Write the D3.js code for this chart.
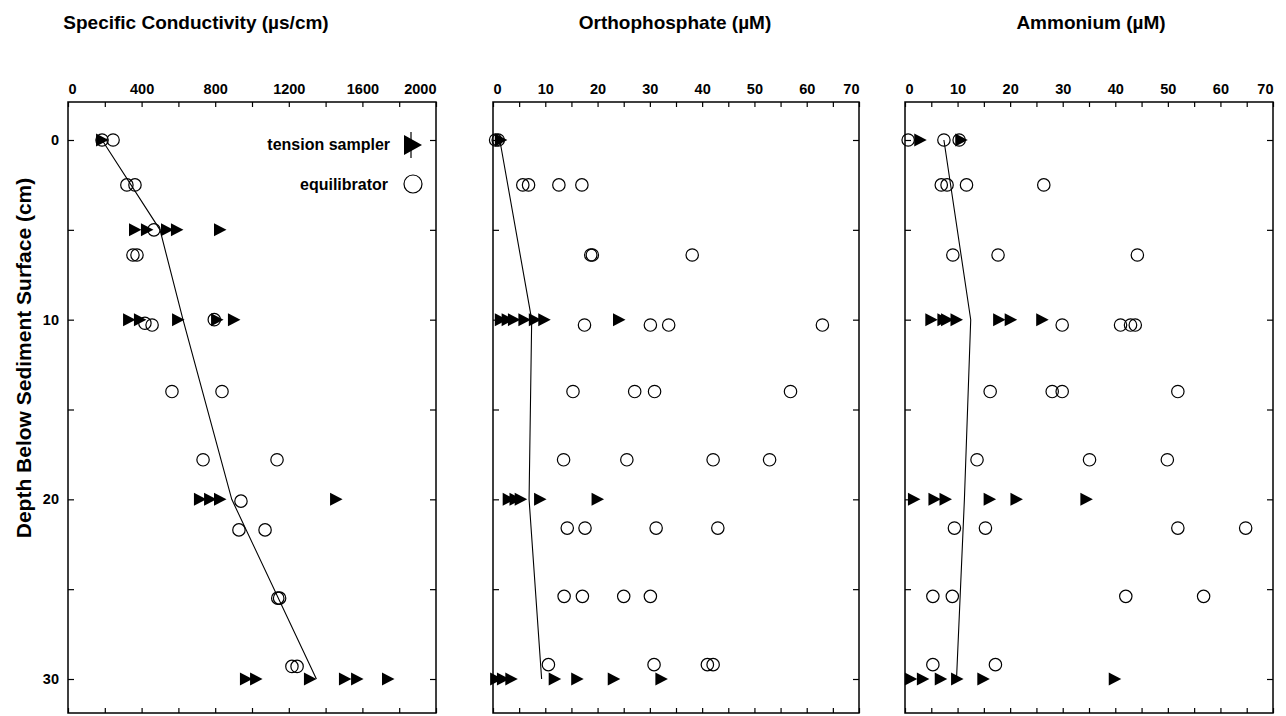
<!DOCTYPE html>
<html lang="en">
<head>
  <meta charset="UTF-8">
  <script src="https://cdn.jsdelivr.net/npm/d3@7"></script>
  <title>Depth profiles</title>
  <style>
    body { margin: 0; background: #fff; }
    text { font-family: "Liberation Sans", Arial, Helvetica, sans-serif; fill: #000; }
  </style>
</head>
<body>
<script>
// values: [depth (cm), value]
const condTension = [[0,185],[5,364],[5,429],[5,538],[5,592],[5,826],
  [10,332],[10,391],[10,598],[10,810],[10,902],
  [20,717],[20,772],[20,826],[20,1457],
  [30,967],[30,1022],[30,1315],[30,1505],[30,1571],[30,1739]];
const condEquil = [[0,185],[0,245],[2.5,320],[2.5,364],[5,467],[6.4,353],[6.4,375],
  [10.2,418],[10.3,457],[10,795],[14,565],[14,837],[17.8,734],[17.8,1136],
  [20.1,940],[21.7,929],[21.7,1071],[25.5,1140],[25.5,1150],[29.3,1217],[29.3,1245]];
const condProfile = [[0,185],[5,500],[10,625],[20,890],[30,1350]];

const phosTension = [[0,1.5],[10,1.5],[10,2.8],[10,4.0],[10,6.0],[10,8.0],[10,9.8],[10,24.1],
  [20,3.0],[20,4.3],[20,5.3],[20,9.0],[20,20.0],
  [30,0.6],[30,1.9],[30,3.5],[30,11.8],[30,16.1],[30,23.1],[30,32.2]];
const phosEquil = [[0,0.5],[0,1.0],[2.5,5.7],[2.5,6.8],[2.5,12.6],[2.5,17.0],
  [6.4,18.7],[6.4,19.0],[6.4,38.1],[10.3,17.5],[10.3,30.1],[10.3,33.6],[10.3,63.0],
  [14,15.3],[14,27.1],[14,30.9],[14,56.9],[17.8,13.5],[17.8,25.6],[17.8,42.1],[17.8,52.9],
  [21.6,14.2],[21.6,17.6],[21.6,31.2],[21.6,43.0],[25.4,13.6],[25.4,17.1],[25.4,25.0],[25.4,30.1],
  [29.2,10.6],[29.2,30.8],[29.2,41.0],[29.2,42.1]];
const phosProfile = [[0,1.3],[10,7.4],[20,6.9],[30,9.3]];

const ammTension = [[0,2.9],[0,10.7],[10,5.0],[10,7.3],[10,8.0],[10,9.8],[10,17.9],[10,20.1],[10,26.1],
  [20,1.7],[20,5.6],[20,7.7],[20,16.1],[20,21.2],[20,34.5],
  [30,1.1],[30,3.4],[30,6.8],[30,9.9],[30,14.9],[30,39.9]];
const ammEquil = [[0,0.6],[0,7.4],[0,10.3],[2.5,6.9],[2.5,8.0],[2.5,11.7],[2.5,26.4],
  [6.4,9.1],[6.4,17.7],[6.4,44.2],[10.3,29.9],[10.3,41.0],[10.3,42.9],[10.3,43.8],
  [14,16.2],[14,28.0],[14,29.9],[14,51.9],[17.8,13.7],[17.8,35.1],[17.8,49.9],
  [21.6,9.4],[21.6,15.3],[21.6,51.9],[21.6,64.8],[25.4,5.3],[25.4,9.0],[25.4,42.0],[25.4,56.8],
  [29.2,5.3],[29.2,17.2]];
const ammProfile = [[0,7.4],[10,12.5],[20,11.3],[30,9.8]];

const titles = ["Specific Conductivity (µs/cm)", "Orthophosphate (µM)", "Ammonium (µM)"];
const condTicks = [0, 400, 800, 1200, 1600, 2000];
const nutrientTicks = [0, 10, 20, 30, 40, 50, 60, 70];
const depthTicks = [0, 10, 20, 30];
const yLabel = "Depth Below Sediment Surface (cm)";
const legendLabels = ["tension sampler", "equilibrator"];

const w = 1286, h = 716;
const frameTop = 102, frameBottom = 713;

const svg = d3.select("body").append("svg")
  .attr("width", w).attr("height", h);

const y = d3.scaleLinear().domain([0, 30]).range([140, 679]);

const panels = [
  { x0: 68, x1: 436, max: 2000, step: 200, labels: condTicks, title: titles[0], tx: 196,
    tension: condTension, equil: condEquil, profile: condProfile },
  { x0: 493, x1: 859, max: 70, step: 5, labels: nutrientTicks, title: titles[1], tx: 675,
    tension: phosTension, equil: phosEquil, profile: phosProfile },
  { x0: 905, x1: 1273, max: 70, step: 5, labels: nutrientTicks, title: titles[2], tx: 1091,
    tension: ammTension, equil: ammEquil, profile: ammProfile }
];

const tri = "M-6,-6.5L-6,6.5L6.5,0Z";

panels.forEach(function (p, i) {
  const x = d3.scaleLinear().domain([0, p.max]).range([p.x0, p.x1]);
  const g = svg.append("g");
  const minor = d3.range(0, p.max + p.step / 2, p.step);
  const depthMinor = d3.range(0, 31, 5);

  // top axis with labels
  const topAx = g.append("g").attr("transform", "translate(0," + frameTop + ")")
    .call(d3.axisTop(x).tickValues(minor).tickSizeInner(-5).tickSizeOuter(0).tickPadding(8)
      .tickFormat(function (d) { return p.labels.includes(d) ? d : ""; }));
  topAx.selectAll("text").style("font-size", "14.5px").style("font-weight", "bold")
    .attr("text-anchor", function (d) { return d === 0 ? "start" : (d === p.max ? "end" : "middle"); });

  g.append("g").attr("transform", "translate(0," + frameBottom + ")")
    .call(d3.axisBottom(x).tickValues(minor).tickSizeInner(-5).tickSizeOuter(0).tickFormat(""));

  const leftAx = g.append("g").attr("transform", "translate(" + p.x0 + ",0)")
    .call(d3.axisLeft(y).tickValues(depthMinor).tickSizeInner(-6).tickSizeOuter(0).tickPadding(9)
      .tickFormat(function (d) { return (i === 0 && depthTicks.includes(d)) ? d : ""; }));
  leftAx.selectAll("text").style("font-size", "14.5px").style("font-weight", "bold");

  g.append("g").attr("transform", "translate(" + p.x1 + ",0)")
    .call(d3.axisRight(y).tickValues(depthMinor).tickSizeInner(-6).tickSizeOuter(0).tickFormat(""));

  g.selectAll(".domain").remove();
  g.selectAll(".tick line").attr("stroke", "#000").attr("stroke-width", 1.2);

  g.append("rect")
    .attr("x", p.x0).attr("y", frameTop)
    .attr("width", p.x1 - p.x0).attr("height", frameBottom - frameTop)
    .attr("fill", "none").attr("stroke", "#000").attr("stroke-width", 1.5);

  // profile line
  g.append("path")
    .datum(p.profile)
    .attr("d", d3.line().x(function (d) { return x(d[1]); }).y(function (d) { return y(d[0]); }))
    .attr("fill", "none").attr("stroke", "#000").attr("stroke-width", 1.1);

  g.selectAll(".tri").data(p.tension).enter().append("path")
    .attr("class", "tri")
    .attr("transform", function (d) { return "translate(" + x(d[1]) + "," + y(d[0]) + ")"; })
    .attr("d", tri).attr("fill", "#000");

  g.selectAll(".circ").data(p.equil).enter().append("circle")
    .attr("class", "circ")
    .attr("cx", function (d) { return x(d[1]); })
    .attr("cy", function (d) { return y(d[0]); })
    .attr("r", 6.2)
    .attr("fill", "none").attr("stroke", "#000").attr("stroke-width", 1.2);

  svg.append("text")
    .attr("x", p.tx).attr("y", 29)
    .attr("text-anchor", "middle")
    .style("font-size", "19px").style("font-weight", "bold")
    .text(p.title);
});

// legend (first panel)
const leg = svg.append("g");
leg.append("text").attr("x", 390).attr("y", 150).attr("text-anchor", "end")
  .style("font-size", "16px").style("font-weight", "bold").text(legendLabels[0]);
leg.append("path").attr("transform", "translate(412,145)")
  .attr("d", "M-8,-10L-8,10L10,0Z").attr("fill", "#000");
leg.append("line").attr("x1", 411).attr("x2", 411).attr("y1", 132).attr("y2", 158)
  .attr("stroke", "#000").attr("stroke-width", 1.2);
leg.append("text").attr("x", 388).attr("y", 190).attr("text-anchor", "end")
  .style("font-size", "16px").style("font-weight", "bold").text(legendLabels[1]);
leg.append("circle").attr("cx", 413).attr("cy", 184).attr("r", 9)
  .attr("fill", "none").attr("stroke", "#000").attr("stroke-width", 1.2);

// y-axis title
svg.append("text")
  .attr("transform", "translate(31,358) rotate(-90)")
  .attr("text-anchor", "middle")
  .style("font-size", "21px").style("font-weight", "bold")
  .text(yLabel);
</script>
</body>
</html>
